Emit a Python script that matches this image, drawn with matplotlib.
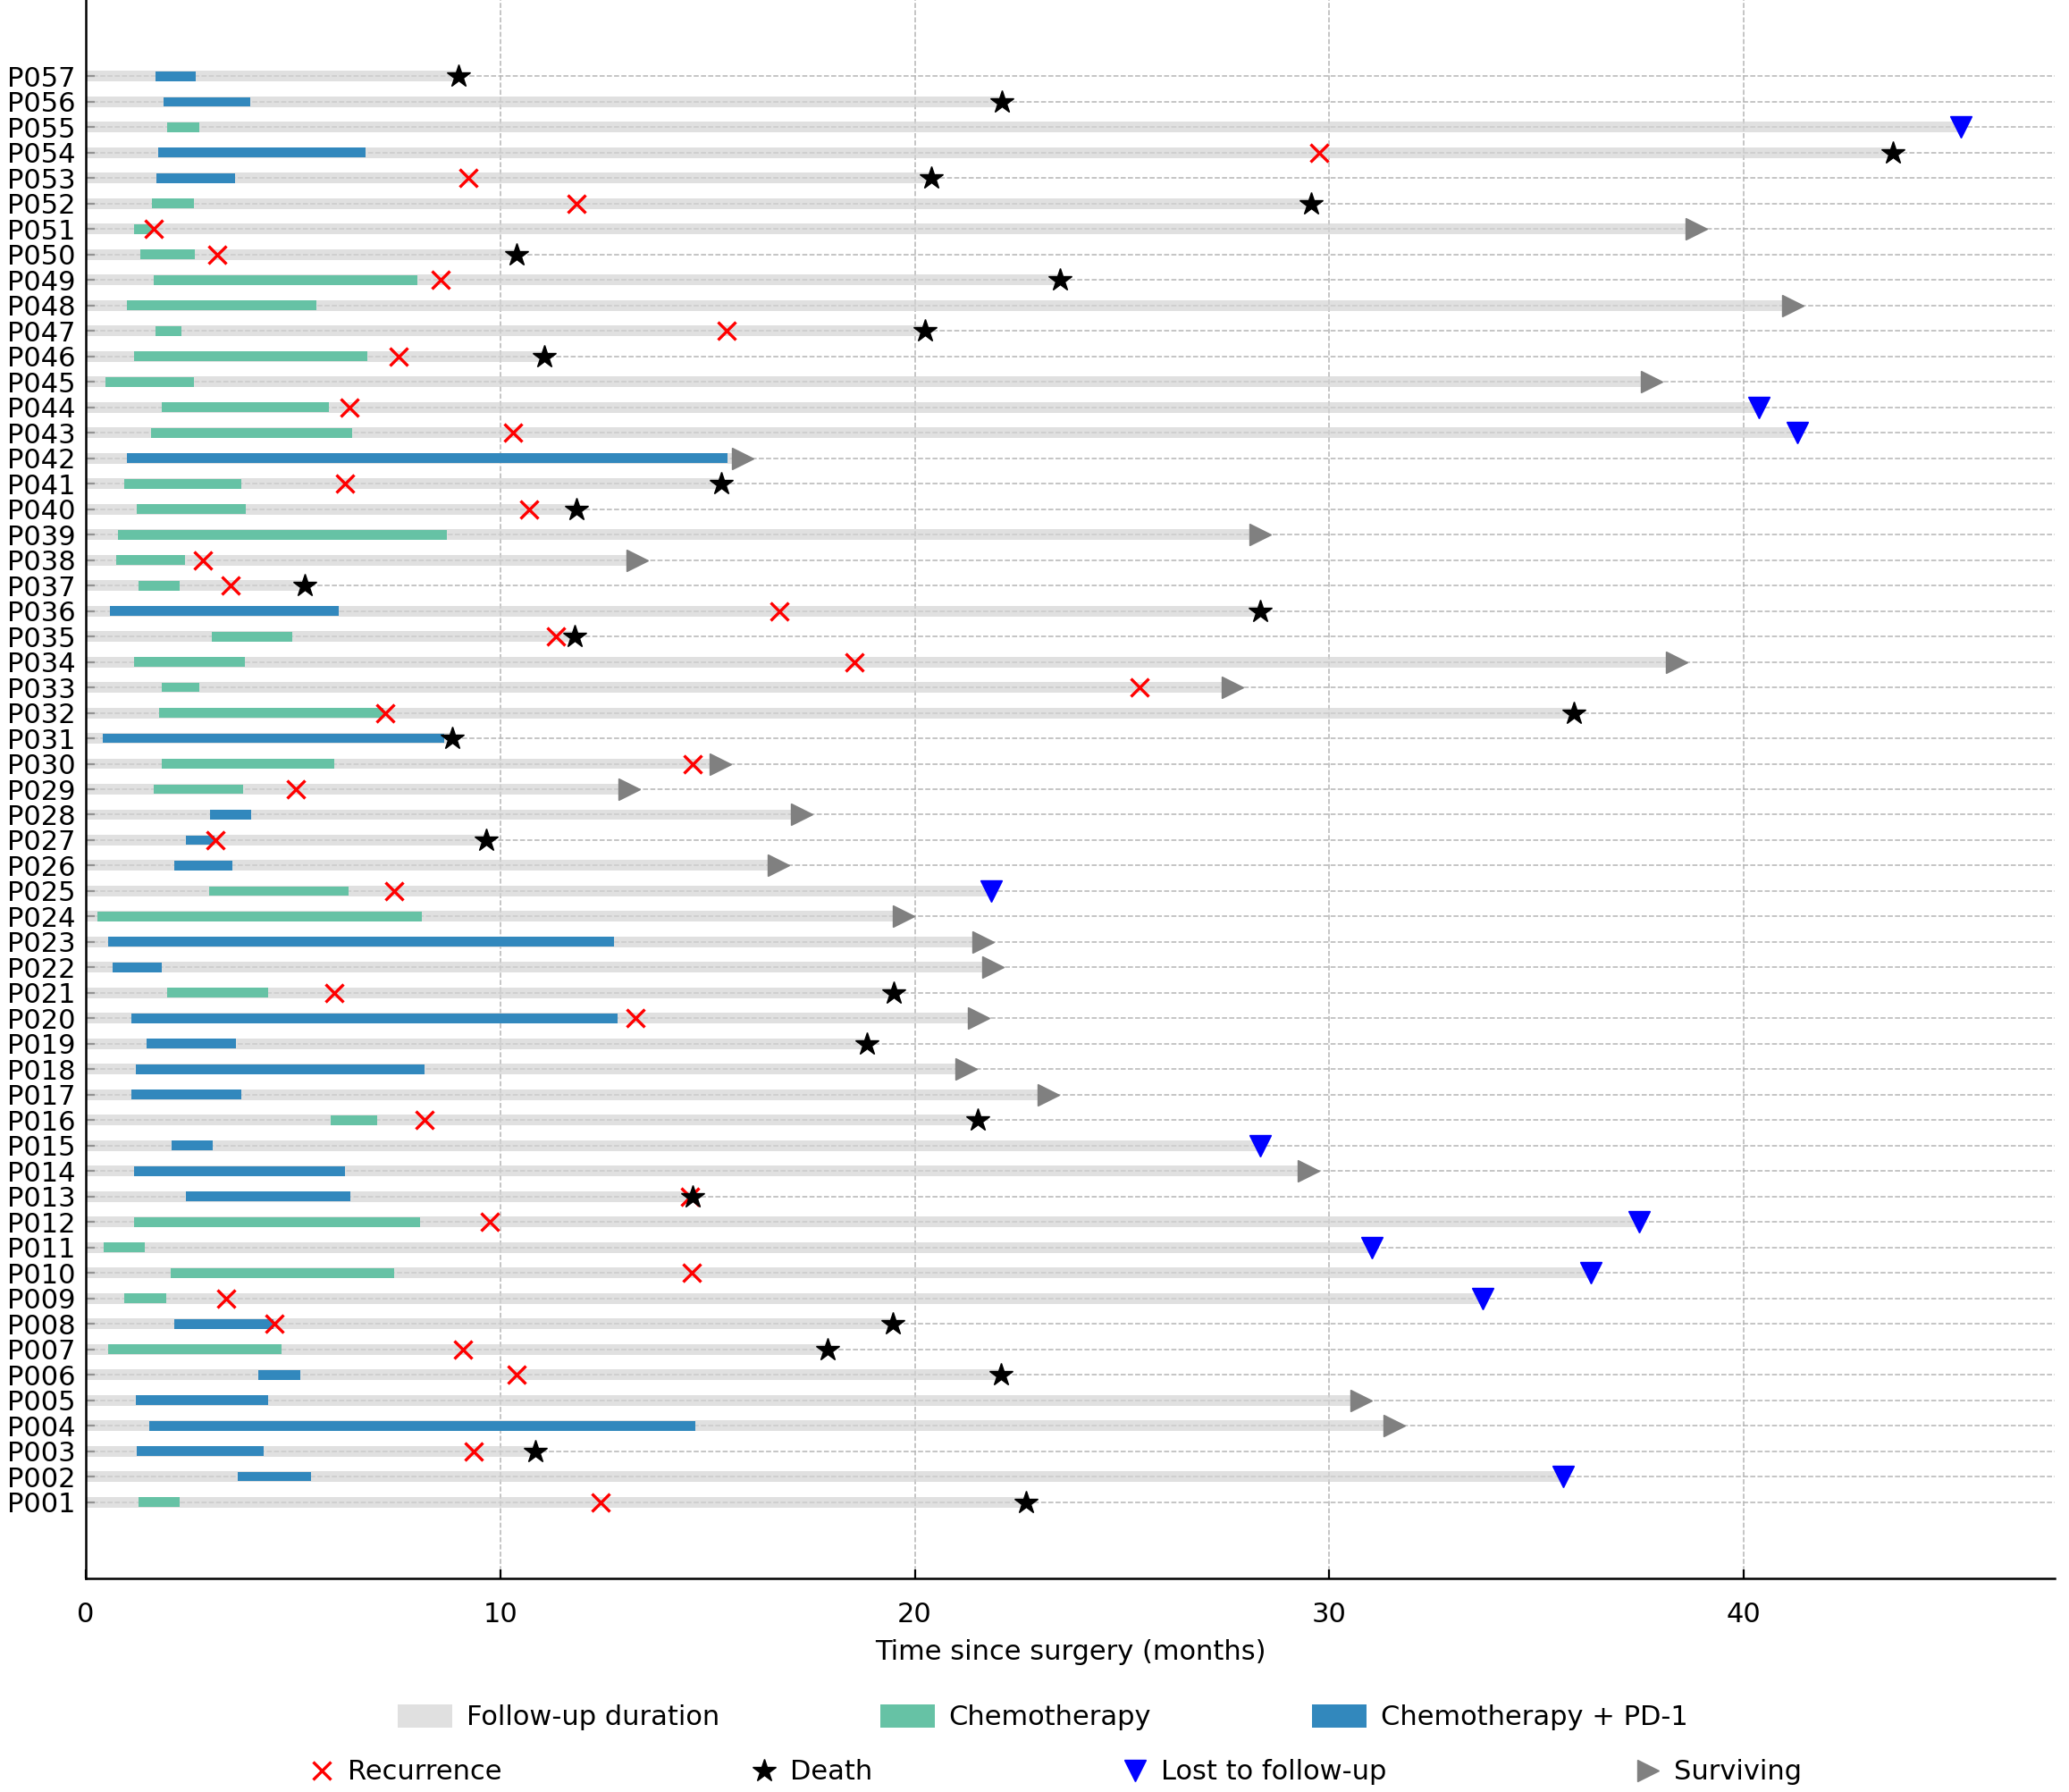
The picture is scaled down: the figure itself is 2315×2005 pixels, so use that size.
import matplotlib
matplotlib.use("Agg")
import matplotlib.pyplot as plt
from matplotlib.lines import Line2D
from matplotlib.patches import Patch
import numpy as np

# ---------- data (P001 .. P057) ----------
patients = [f"P{i:03d}" for i in range(1, 58)]

# C = chemotherapy, P = chemotherapy + PD-1
tx_type = [
    "C", "P", "P", "P", "P", "P", "C", "P", "C", "C",
    "C", "C", "P", "P", "P", "C", "P", "P", "P", "P",
    "C", "P", "P", "C", "C", "P", "P", "P", "C", "C",
    "P", "C", "C", "C", "C", "P", "C", "C", "C", "C",
    "C", "P", "C", "C", "C", "C", "C", "C", "C", "C",
    "C", "C", "P", "P", "C", "P", "P",
]
tx_start = [
    1.28, 3.66, 1.23, 1.52, 1.20, 4.16, 0.54, 2.13, 0.92, 2.04,
    0.43, 1.16, 2.41, 1.16, 2.06, 5.90, 1.10, 1.20, 1.46, 1.10,
    1.95, 0.64, 0.54, 0.28, 2.97, 2.13, 2.41, 2.99, 1.64, 1.84,
    0.40, 1.76, 1.84, 1.16, 3.04, 0.59, 1.28, 0.74, 0.77, 1.23,
    0.92, 1.00, 1.57, 1.84, 0.47, 1.16, 1.69, 1.00, 1.64, 1.31,
    1.16, 1.60, 1.70, 1.74, 1.95, 1.87, 1.67,
]
tx_end = [
    2.26, 5.43, 4.30, 14.70, 4.40, 5.17, 4.72, 4.53, 1.94, 7.43,
    1.43, 8.06, 6.38, 6.26, 3.06, 7.02, 3.76, 8.16, 3.62, 12.82,
    4.40, 1.84, 12.75, 8.10, 6.33, 3.53, 3.10, 3.99, 3.80, 6.00,
    8.64, 7.17, 2.74, 3.84, 4.99, 6.09, 2.26, 2.40, 8.72, 3.86,
    3.76, 15.48, 6.42, 5.86, 2.60, 6.80, 2.30, 5.56, 7.99, 2.62,
    1.60, 2.60, 3.59, 6.75, 2.74, 3.96, 2.66,
]
nan = np.nan
recurrence = [
    12.41, nan, 9.36, nan, nan, 10.39, 9.10, 4.54, 3.39, 14.62,
    nan, 9.74, 14.57, nan, nan, 8.16, nan, nan, nan, 13.26,
    6.00, nan, nan, nan, 7.43, nan, 3.12, nan, 5.06, 14.63,
    nan, 7.23, 25.43, 18.55, 11.33, 16.73, 3.50, 2.83, nan, 10.69,
    6.26, nan, 10.30, 6.36, nan, 7.54, 15.45, nan, 8.56, 3.16,
    1.64, 11.84, 9.23, 29.76, nan, nan, nan,
]
follow_up = [
    22.68, 35.64, 10.84, 31.57, 30.77, 22.08, 17.89, 19.48, 33.70, 36.30,
    31.03, 37.47, 14.64, 29.50, 28.34, 21.52, 23.22, 21.24, 18.84, 21.55,
    19.50, 21.88, 21.64, 19.73, 21.85, 16.71, 9.66, 17.28, 13.10, 15.30,
    8.83, 35.90, 27.67, 38.38, 11.80, 28.33, 5.29, 13.30, 28.33, 11.84,
    15.32, 15.85, 41.30, 40.37, 37.78, 11.06, 20.24, 41.18, 23.50, 10.40,
    38.86, 29.57, 20.40, 43.59, 45.24, 22.10, 9.00,
]
# D = death, L = lost to follow-up, S = surviving
outcome = [
    "D", "L", "D", "S", "S", "D", "D", "D", "L", "L",
    "L", "L", "D", "S", "L", "D", "S", "S", "D", "S",
    "D", "S", "S", "S", "L", "S", "D", "S", "S", "S",
    "D", "D", "S", "S", "D", "D", "D", "S", "S", "D",
    "D", "S", "L", "L", "S", "D", "D", "S", "D", "D",
    "S", "D", "D", "D", "L", "D", "D",
]

# ---------- plot ----------
plt.rcParams["font.family"] = ["DejaVu Sans"]
FS = 22

C_CHEMO = "#66c2a5"
C_PD1 = "#3288bd"

y = np.arange(len(patients))
tx_type = np.array(tx_type)
tx_start = np.array(tx_start)
tx_end = np.array(tx_end)
recurrence = np.array(recurrence)
follow_up = np.array(follow_up)
outcome = np.array(outcome)

fig = plt.figure(figsize=(23.15, 20.05), dpi=100)
ax = fig.add_axes([0.0415, 0.1192, 0.9516, 0.8808])

# follow-up (semi-transparent so the grid shows through)
ax.barh(y, follow_up, height=0.42, color="lightgray", alpha=0.7, zorder=2)

m = tx_type == "C"
ax.barh(y[m], tx_end[m] - tx_start[m], left=tx_start[m], height=0.38,
        color=C_CHEMO, zorder=3)
m = tx_type == "P"
ax.barh(y[m], tx_end[m] - tx_start[m], left=tx_start[m], height=0.38,
        color=C_PD1, zorder=3)

ax.plot(recurrence, y, "x", color="red", ms=14.5, mew=2.4, zorder=5)
m = outcome == "D"
ax.plot(follow_up[m], y[m], "*", color="black", ms=19, zorder=6)
m = outcome == "L"
ax.plot(follow_up[m], y[m], "v", color="blue", ms=17, zorder=6)
m = outcome == "S"
ax.plot(follow_up[m], y[m], ">", color="gray", ms=17, zorder=6)

ax.set_xlim(0, follow_up.max() * 1.05)
ax.set_ylim(-3, len(patients) + 2)
ax.set_yticks(y)
ax.set_yticklabels(patients)
ax.set_xticks([0, 10, 20, 30, 40])
ax.set_xlabel("Time since surgery (months)", fontsize=FS, labelpad=9)

ax.grid(True, linestyle="--", color="#b5b5b5", linewidth=1.1, zorder=0)
ax.set_axisbelow(True)
for s in ("top", "right"):
    ax.spines[s].set_visible(False)
for s in ("left", "bottom"):
    ax.spines[s].set_linewidth(1.8)
ax.tick_params(direction="in", length=7, width=1.6, labelsize=FS)
ax.tick_params(axis="y", pad=8)
ax.tick_params(axis="x", pad=19)

h1 = [
    Patch(facecolor="lightgray", alpha=0.7, label="Follow-up duration"),
    Patch(facecolor=C_CHEMO, label="Chemotherapy"),
    Patch(facecolor=C_PD1, label="Chemotherapy + PD-1"),
]
h2 = [
    Line2D([], [], ls="none", marker="x", color="red", ms=14.5, mew=2.4, label="Recurrence"),
    Line2D([], [], ls="none", marker="*", color="black", ms=19, label="Death"),
    Line2D([], [], ls="none", marker="v", color="blue", ms=17, label="Lost to follow-up"),
    Line2D([], [], ls="none", marker=">", color="gray", ms=17, label="Surviving"),
]
fig.legend(handles=h1, loc="center", bbox_to_anchor=(0.504, 0.0415), ncol=3,
           frameon=False, fontsize=FS, columnspacing=5.9, handlelength=2.0,
           handleheight=0.9, handletextpad=0.5)
fig.legend(handles=h2, loc="center", bbox_to_anchor=(0.51, 0.011), ncol=4,
           frameon=False, fontsize=FS, columnspacing=9.1, handlelength=1.0,
           handletextpad=0.45)

fig.savefig("out.png", dpi=100)
